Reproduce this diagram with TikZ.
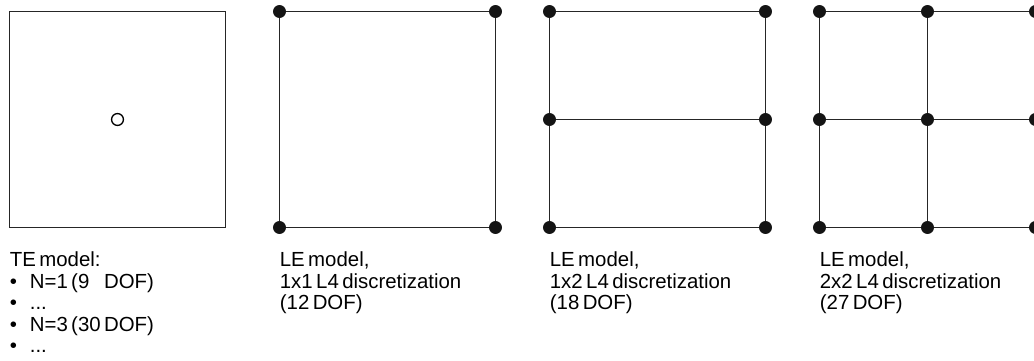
\documentclass[tikz,border=0pt]{standalone}
\usepackage{fontspec}
\setmainfont[WordSpace=0.6]{Liberation Sans}
\usetikzlibrary{positioning}

\begin{document}
\begin{tikzpicture}[
  domainbox/.style={draw, black!85, line width=0.55pt, rectangle, minimum size=4cm, inner sep=0pt, outer sep=0pt},
  knot/.style={circle, fill=black!92, inner sep=0pt, minimum size=0.24cm},
  secpt/.style={circle, draw, line width=0.7pt, inner sep=0pt, minimum size=0.22cm},
  meshline/.style={black!85, line width=0.55pt},
  capt/.style={anchor=north west, inner sep=0pt, align=left,
    font=\fontsize{10.75}{11.33}\selectfont},
]

\useasboundingbox (-0.176,-2.454) rectangle (18.972,4.213);

% TE model
\node (te) [domainbox, anchor=south west] at (0,0) {};
\node (tesec) [secpt] at (te.center) {};
\node (tecap) [capt] at ([yshift=-0.45cm]te.south west) {TE model:\\
  \makebox[0.37cm][l]{\textbullet}N=1 (9\phantom{0} DOF)\\
  \makebox[0.37cm][l]{\textbullet}...\\
  \makebox[0.37cm][l]{\textbullet}N=3 (30 DOF)\\
  \makebox[0.37cm][l]{\textbullet}...};

% LE models
\foreach \k/\nx/\ny/\dof in {1/1/1/12, 2/1/2/18, 3/2/2/27} {
  \foreach \i in {0,...,\nx}
    \foreach \j in {0,...,\ny}
      \node (m\k-\i-\j) [knot] at ({5*\k+4*\i/\nx}, {4*\j/\ny}) {};
  \foreach \j in {0,...,\ny}
    \foreach [evaluate={\ip=int(\i-1)}] \i in {1,...,\nx}
      \draw[meshline] (m\k-\ip-\j) -- (m\k-\i-\j);
  \foreach \i in {0,...,\nx}
    \foreach [evaluate={\jp=int(\j-1)}] \j in {1,...,\ny}
      \draw[meshline] (m\k-\i-\jp) -- (m\k-\i-\j);
  \node (cap\k) [capt] at ([yshift=-0.45cm]m\k-0-0.center)
    {LE model,\\\nx x\ny{} L4 discretization\\(\dof{} DOF)};
}
\end{tikzpicture}
\end{document}
